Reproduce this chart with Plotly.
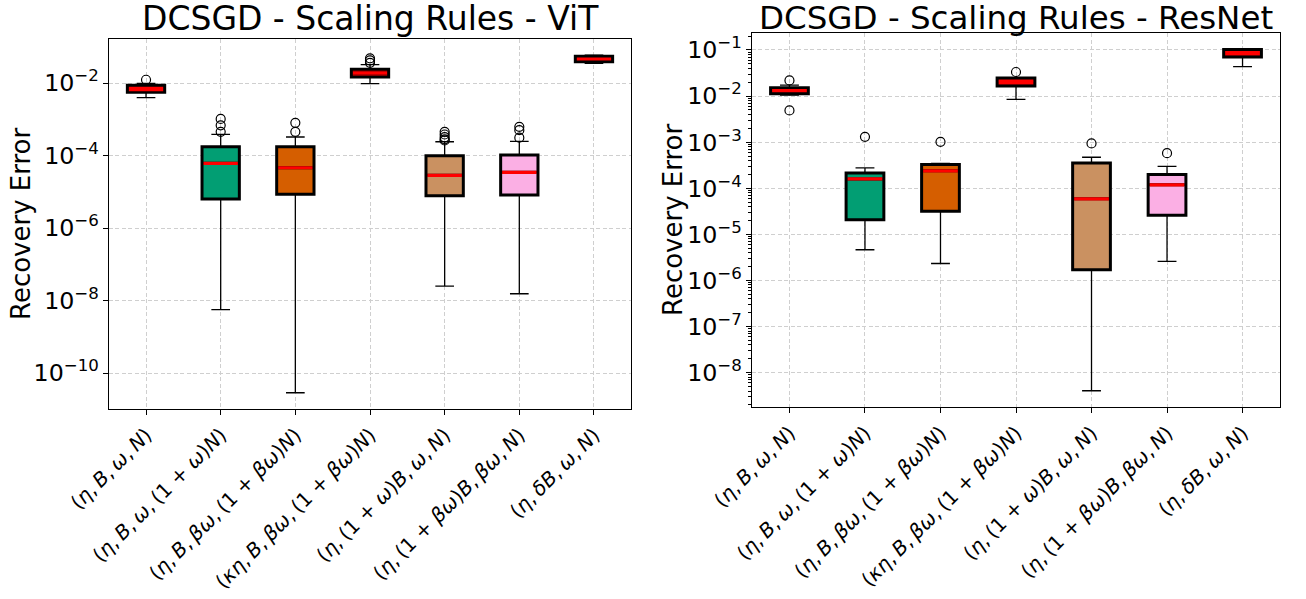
import plotly.graph_objects as go

# ---------------- data ----------------
T = "\u2009"  # thin space after commas (mathtext-like spacing)
labels = [
    f"(<i>η</i>,{T}<i>B</i>,{T}<i>ω</i>,{T}<i>N</i>)",
    f"(<i>η</i>,{T}<i>B</i>,{T}<i>ω</i>,{T}(1 + <i>ω</i>)<i>N</i>)",
    f"(<i>η</i>,{T}<i>B</i>,{T}<i>βω</i>,{T}(1 + <i>βω</i>)<i>N</i>)",
    f"(<i>κη</i>,{T}<i>B</i>,{T}<i>βω</i>,{T}(1 + <i>βω</i>)<i>N</i>)",
    f"(<i>η</i>,{T}(1 + <i>ω</i>)<i>B</i>,{T}<i>ω</i>,{T}<i>N</i>)",
    f"(<i>η</i>,{T}(1 + <i>βω</i>)<i>B</i>,{T}<i>βω</i>,{T}<i>N</i>)",
    f"(<i>η</i>,{T}<i>δB</i>,{T}<i>ω</i>,{T}<i>N</i>)",
]
box_colors = ["#ff0000", "#029e73", "#d55e00", "#ff0000", "#ca9161", "#fbafe4", "#ff0000"]

# ViT panel
vit_q1 = [5.53e-3, 6.3e-6, 8.5e-6, 1.47e-2, 7.8e-6, 8.1e-6, 3.87e-2]
vit_med = [6.53e-3, 6.1e-5, 4.6e-5, 1.89e-2, 2.84e-5, 3.44e-5, 4.59e-2]
vit_q3 = [8.65e-3, 1.75e-4, 1.75e-4, 2.39e-2, 9.9e-5, 1.03e-4, 5.5e-2]
vit_wlo = [3.94e-3, 5.6e-9, 2.86e-11, 9.6e-3, 2.5e-8, 1.54e-8, 3.5e-2]
vit_whi = [9.8e-3, 3.85e-4, 3.24e-4, 3.2e-2, 2.4e-4, 2.47e-4, 5.9e-2]
vit_out = [
    [1.23e-2],
    [4.5e-4, 6.8e-4, 1.02e-3],
    [4.5e-4, 8.0e-4],
    [3.6e-2, 4.2e-2, 4.8e-2],
    [2.6e-4, 2.8e-4, 3.2e-4, 3.8e-4, 4.5e-4],
    [3.1e-4, 5.0e-4, 6.2e-4],
    [],
]

# ResNet panel
res_q1 = [1.13e-2, 2.09e-5, 3.16e-5, 1.65e-2, 1.71e-6, 2.59e-5, 7.05e-2]
res_med = [1.31e-2, 1.6e-4, 2.39e-4, 1.95e-2, 5.9e-5, 1.19e-4, 8.3e-2]
res_q3 = [1.52e-2, 2.16e-4, 3.27e-4, 2.46e-2, 3.56e-4, 1.99e-4, 1.02e-1]
res_wlo = [1.05e-2, 4.65e-6, 2.34e-6, 8.5e-3, 4.06e-9, 2.59e-6, 4.34e-2]
res_whi = [1.73e-2, 2.77e-4, 3.49e-4, 2.5e-2, 4.72e-4, 3.0e-4, 1.05e-1]
res_out = [
    [2.19e-2, 4.89e-3],
    [1.31e-3],
    [1.02e-3],
    [3.33e-2],
    [9.4e-4],
    [5.77e-4],
    [],
]

panels = [
    dict(title="DCSGD - Scaling Rules - ViT", q1=vit_q1, med=vit_med, q3=vit_q3,
         wlo=vit_wlo, whi=vit_whi, out=vit_out, xa="x", ya="y"),
    dict(title="DCSGD - Scaling Rules - ResNet", q1=res_q1, med=res_med, q3=res_q3,
         wlo=res_wlo, whi=res_whi, out=res_out, xa="x2", ya="y2"),
]

W, H = 1306, 599
FONT = "DejaVu Sans"
positions = list(range(1, len(labels) + 1))
BOXW = 0.5
CAPW = 0.25

fig = go.Figure()

for p in panels:
    n = len(positions)
    for i in range(n):
        fig.add_trace(go.Box(
            x=[positions[i]], q1=[p["q1"][i]], median=[p["med"][i]], q3=[p["q3"][i]],
            lowerfence=[p["q1"][i]], upperfence=[p["q3"][i]],
            width=BOXW, fillcolor=box_colors[i],
            line=dict(color="black", width=3), boxpoints=False,
            xaxis=p["xa"], yaxis=p["ya"], showlegend=False, hoverinfo="skip",
        ))
    wx, wy = [], []
    for i in range(n):
        x0 = positions[i]
        wx += [x0, x0, None, x0, x0, None,
               x0 - CAPW / 2, x0 + CAPW / 2, None, x0 - CAPW / 2, x0 + CAPW / 2, None]
        wy += [p["q3"][i], p["whi"][i], None, p["q1"][i], p["wlo"][i], None,
               p["whi"][i], p["whi"][i], None, p["wlo"][i], p["wlo"][i], None]
    fig.add_trace(go.Scatter(x=wx, y=wy, mode="lines", line=dict(color="black", width=1.3),
                             xaxis=p["xa"], yaxis=p["ya"], showlegend=False, hoverinfo="skip"))
    mx, my = [], []
    for i in range(n):
        x0 = positions[i]
        mx += [x0 - BOXW / 2 + 0.02, x0 + BOXW / 2 - 0.02, None]
        my += [p["med"][i], p["med"][i], None]
    fig.add_trace(go.Scatter(x=mx, y=my, mode="lines", line=dict(color="#ff0000", width=3.2),
                             xaxis=p["xa"], yaxis=p["ya"], showlegend=False, hoverinfo="skip"))
    ox, oy = [], []
    for i in range(n):
        for v in p["out"][i]:
            ox.append(positions[i])
            oy.append(v)
    fig.add_trace(go.Scatter(x=ox, y=oy, mode="markers",
                             marker=dict(symbol="circle-open", size=9, color="black",
                                         line=dict(width=1.2, color="black")),
                             xaxis=p["xa"], yaxis=p["ya"], showlegend=False, hoverinfo="skip"))

# ---------------- layout ----------------
def px_x(v):
    return v / W

def px_y(v):
    return 1 - v / H

axis_common = dict(
    showline=True, linecolor="black", linewidth=1.1, mirror=True,
    ticks="outside", ticklen=5, tickwidth=1.1, tickcolor="black",
    showgrid=True, gridcolor="#cfcfcf", gridwidth=1, griddash="4px,2.5px",
    zeroline=False, automargin=False,
    tickfont=dict(family=FONT, size=19, color="black"),
)
xtickfont = dict(family=FONT, size=20, color="black")

fig.update_layout(
    width=W, height=H, autosize=False,
    margin=dict(l=0, r=0, t=0, b=0, autoexpand=False),
    paper_bgcolor="white", plot_bgcolor="white",
    boxmode="overlay", showlegend=False,
    font=dict(family=FONT, color="black"),
    xaxis=dict(axis_common, domain=[px_x(108.7), px_x(631.3)], range=[0.5, 7.5],
               tickmode="array", tickvals=positions, ticktext=labels, tickangle=-45,
               tickfont=xtickfont, anchor="y"),
    yaxis=dict(axis_common, domain=[px_y(409.3), px_y(39)], type="log",
               range=[-11.0, -0.786], dtick=2, tick0=0, exponentformat="power",
               showexponent="all", anchor="x"),
    xaxis2=dict(axis_common, domain=[px_x(751.7), px_x(1280.3)], range=[0.5, 7.5],
                tickmode="array", tickvals=positions, ticktext=labels, tickangle=-45,
                tickfont=xtickfont, anchor="y2"),
    yaxis2=dict(axis_common, domain=[px_y(407.3), px_y(33.3)], type="log",
                range=[-8.75, -0.638], dtick=1, tick0=0, exponentformat="power",
                showexponent="all", anchor="x2",
                minor=dict(ticks="outside", ticklen=2.5, tickwidth=0.8, tickcolor="black",
                           dtick="D1", showgrid=False)),
)

annotations = [
    dict(text=panels[0]["title"], x=px_x(370), y=px_y(19), xref="paper", yref="paper",
         xanchor="center", yanchor="middle", showarrow=False,
         font=dict(family=FONT, size=33, color="black")),
    dict(text=panels[1]["title"], x=px_x(1016), y=px_y(18), xref="paper", yref="paper",
         xanchor="center", yanchor="middle", showarrow=False,
         font=dict(family=FONT, size=32.5, color="black")),
    dict(text="Recovery Error", x=px_x(21), y=px_y(224), xref="paper", yref="paper",
         xanchor="center", yanchor="middle", showarrow=False, textangle=-90,
         font=dict(family=FONT, size=26, color="black")),
    dict(text="Recovery Error", x=px_x(673), y=px_y(220), xref="paper", yref="paper",
         xanchor="center", yanchor="middle", showarrow=False, textangle=-90,
         font=dict(family=FONT, size=26, color="black")),
]
fig.update_layout(annotations=annotations)

fig.write_html("out.html")
